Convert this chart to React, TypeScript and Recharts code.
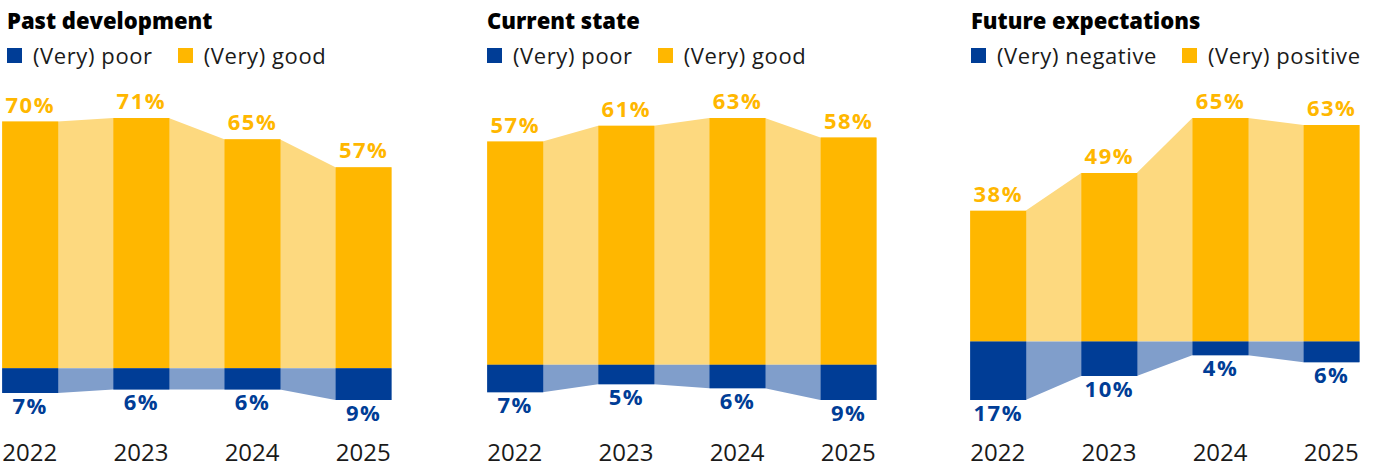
import { ComposedChart, Bar, Area, XAxis, YAxis, LabelList } from 'recharts';

const years = ['2022', '2023', '2024', '2025'];

const pastTitle = 'Past development';
const pastLegend = ['(Very) poor', '(Very) good'];
const pastPoor = [7, 6, 6, 9];
const pastGood = [70, 71, 65, 57];

const currentTitle = 'Current state';
const currentLegend = ['(Very) poor', '(Very) good'];
const currentPoor = [7, 5, 6, 9];
const currentGood = [57, 61, 63, 58];

const futureTitle = 'Future expectations';
const futureLegend = ['(Very) negative', '(Very) positive'];
const futurePoor = [17, 10, 4, 6];
const futureGood = [38, 49, 65, 63];

const YELLOW = '#FFB700';
const LIGHT_YELLOW = '#FDD97F';
const BLUE = '#003D96';
const LIGHT_BLUE = '#809ECB';
const TEXT = '#1a1a1a';
const FONT = '"Open Sans", sans-serif';

const CHART_W = 429;
const CHART_H = 468;
const SIDE = 20;
const HALF = 0.25; // half bar width in category units
const X_DOMAIN: [number, number] = [-HALF, years.length - 1 + HALF];

const GoodLabel = (props: any) => {
  const x = Number(props.x);
  const y = Number(props.y);
  const w = Number(props.width);
  const h = Number(props.height);
  const top = Math.min(y, y + h);
  return (
    <text
      x={x + w / 2}
      y={top - 9}
      textAnchor="middle"
      fill={YELLOW}
      fontSize={22}
      fontWeight={700}
      fontFamily={FONT}
      letterSpacing={1.5}
    >
      {props.value}%
    </text>
  );
};

const PoorLabel = (props: any) => {
  const x = Number(props.x);
  const y = Number(props.y);
  const w = Number(props.width);
  const h = Number(props.height);
  const bottom = Math.max(y, y + h);
  return (
    <text
      x={x + w / 2}
      y={bottom + 21}
      textAnchor="middle"
      fill={BLUE}
      fontSize={22}
      fontWeight={700}
      fontFamily={FONT}
      letterSpacing={1.5}
    >
      {props.value}%
    </text>
  );
};

type PanelProps = {
  title: string;
  legend: string[];
  poor: number[];
  good: number[];
  plotLeft: number;
  textLeft: number;
};

function Panel({ title, legend, poor, good, plotLeft, textLeft }: PanelProps) {
  const barRows = years.map((year, i) => ({
    x: i,
    year,
    good: good[i],
    poor: poor[i],
    poorNeg: -poor[i],
  }));
  // each bar's value is repeated at its left and right edge so the
  // connecting band runs from bar edge to bar edge
  const edgeRows = years.flatMap((_, i) => [
    { x: i - HALF, good: good[i], poorNeg: -poor[i] },
    { x: i + HALF, good: good[i], poorNeg: -poor[i] },
  ]);
  const yDomain: [number, number] = [-Math.max(...poor), Math.max(...good)];

  return (
    <>
      <div
        style={{
          position: 'absolute',
          left: textLeft,
          top: 7,
          fontFamily: FONT,
          fontSize: 22,
          lineHeight: '26px',
          fontWeight: 800,
          color: '#000',
          whiteSpace: 'nowrap',
        }}
      >
        {title}
      </div>
      <div
        style={{
          position: 'absolute',
          left: textLeft,
          top: 42,
          display: 'flex',
          alignItems: 'center',
          fontFamily: FONT,
          fontSize: 22,
          lineHeight: '26px',
          color: TEXT,
          whiteSpace: 'nowrap',
          letterSpacing: 0.6,
        }}
      >
        <span style={{ width: 15, height: 15, background: BLUE, marginRight: 11 }} />
        <span style={{ marginRight: 25 }}>{legend[0]}</span>
        <span style={{ width: 15, height: 15, background: YELLOW, marginRight: 11 }} />
        <span>{legend[1]}</span>
      </div>
      <div style={{ position: 'absolute', left: plotLeft - SIDE, top: 0 }}>
        <ComposedChart
          width={CHART_W}
          height={CHART_H}
          data={edgeRows}
          margin={{ top: 118, right: SIDE, bottom: 68, left: SIDE }}
        >
          <XAxis hide type="number" dataKey="x" domain={X_DOMAIN} />
          <YAxis hide type="number" domain={yDomain} />
          <Area
            type="linear"
            dataKey="good"
            baseValue={0}
            fill={LIGHT_YELLOW}
            fillOpacity={1}
            stroke="none"
            isAnimationActive={false}
          />
          <Area
            type="linear"
            dataKey="poorNeg"
            baseValue={0}
            fill={LIGHT_BLUE}
            fillOpacity={1}
            stroke="none"
            isAnimationActive={false}
          />
        </ComposedChart>
      </div>
      <div style={{ position: 'absolute', left: plotLeft - SIDE, top: 0 }}>
        <ComposedChart
          width={CHART_W}
          height={CHART_H}
          data={barRows}
          stackOffset="sign"
          margin={{ top: 118, right: SIDE, bottom: 8, left: SIDE }}
        >
          <XAxis
            type="number"
            dataKey="x"
            domain={X_DOMAIN}
            ticks={years.map((_, i) => i)}
            tickCount={years.length}
            interval={0}
            allowDecimals={false}
            tickFormatter={(v: number) => years[v]}
            axisLine={false}
            tickLine={false}
            tickSize={0}
            tickMargin={44}
            height={60}
            tick={{ fill: TEXT, fontSize: 24, fontFamily: FONT }}
          />
          <YAxis hide type="number" domain={yDomain} />
          <Bar dataKey="good" stackId="s" fill={YELLOW} barSize={56} isAnimationActive={false}>
            <LabelList dataKey="good" content={GoodLabel} />
          </Bar>
          <Bar dataKey="poorNeg" stackId="s" fill={BLUE} barSize={56} isAnimationActive={false}>
            <LabelList dataKey="poor" content={PoorLabel} />
          </Bar>
        </ComposedChart>
      </div>
    </>
  );
}

export default function App() {
  return (
    <div
      style={{
        position: 'absolute',
        left: 0,
        top: 0,
        width: 1383,
        height: 468,
        background: '#fff',
        overflow: 'hidden',
      }}
    >
      <Panel title={pastTitle} legend={pastLegend} poor={pastPoor} good={pastGood} plotLeft={2} textLeft={7} />
      <Panel
        title={currentTitle}
        legend={currentLegend}
        poor={currentPoor}
        good={currentGood}
        plotLeft={486.5}
        textLeft={487}
      />
      <Panel
        title={futureTitle}
        legend={futureLegend}
        poor={futurePoor}
        good={futureGood}
        plotLeft={970}
        textLeft={971}
      />
    </div>
  );
}
